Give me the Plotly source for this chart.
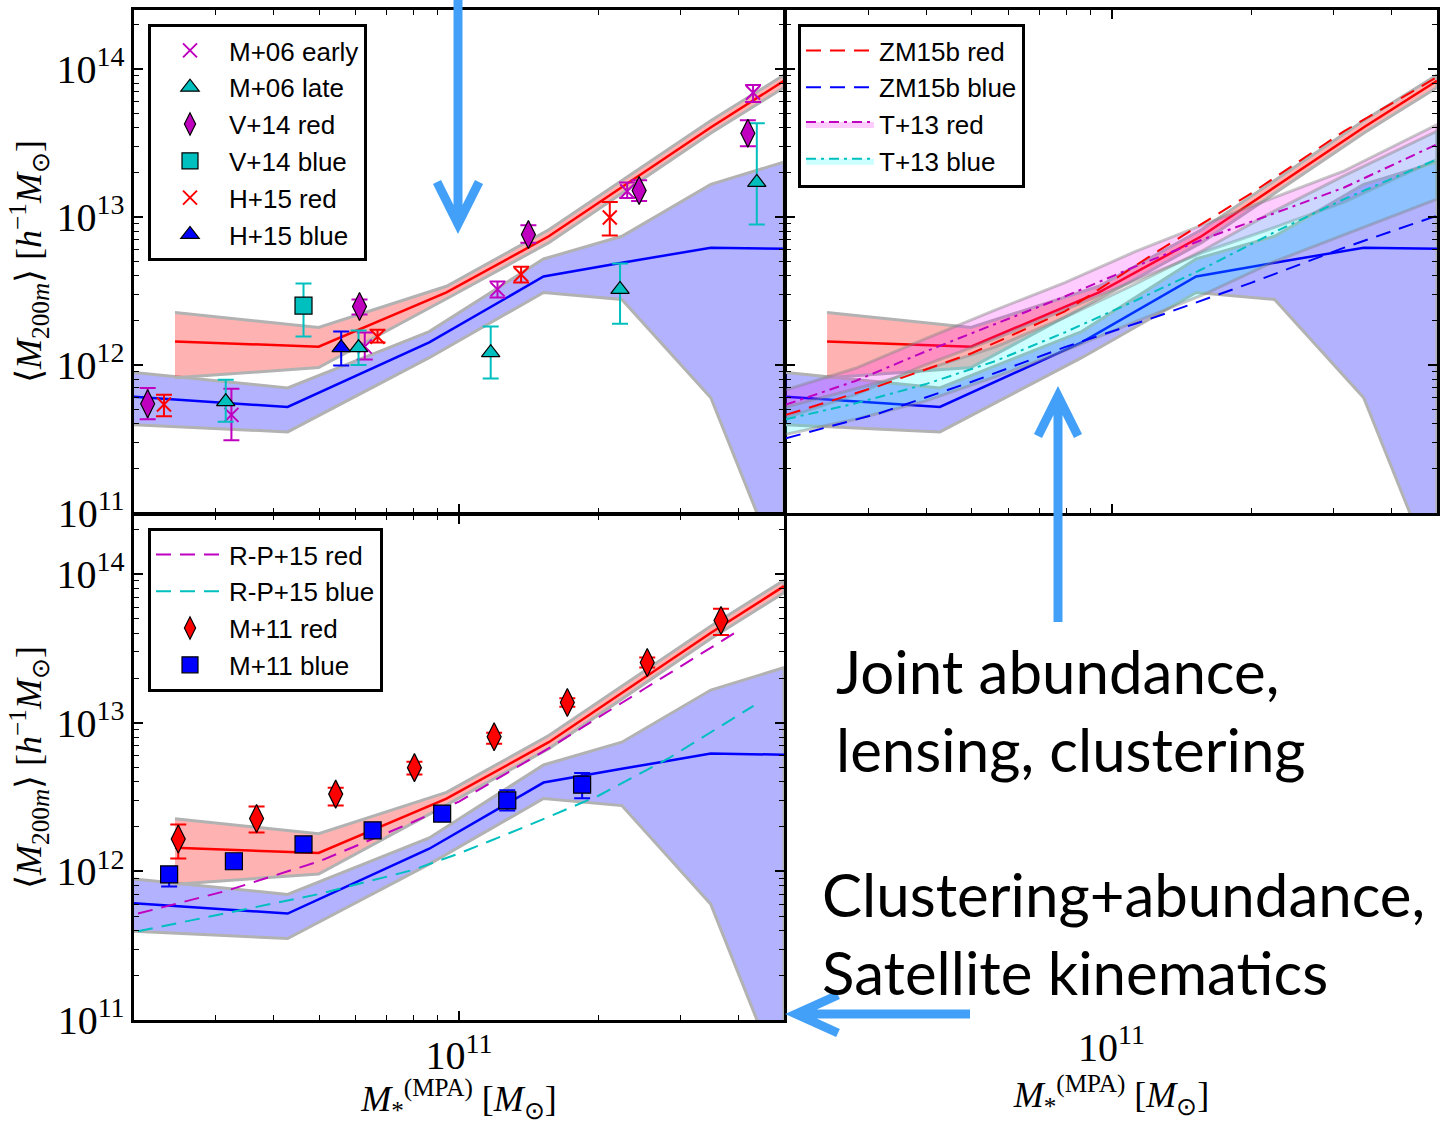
import math
import plotly.graph_objects as go

W, H = 1441, 1124

MAG = "#bf00bf"
CYAN = "#00bfbf"
RED = "#ff0000"
BLUE = "#0000ff"
EDGE = "#b2b2b2"
ARROW = "#42a0f8"
SERIF = "Liberation Serif"
SANS = "Liberation Sans"

# axis limits
mstar_lim = [2e10, 5e11]
mhalo_lim = [1e11, 2.5e14]

# best-fit model: red galaxies (line + 68% band)
red_mstar = [2.45e10, 4.99e10, 9.4e10, 1.56e11, 3.49e11, 5.0e11]
red_mh = [1.44e12, 1.33e12, 3.09e12, 7.4e12, 4.05e13, 8.3e13]
red_mh_hi = [2.26e12, 1.79e12, 3.4e12, 8.2e12, 4.5e13, 9.1e13]
red_mh_lo = [8.2e11, 9.6e11, 2.8e12, 6.7e12, 3.7e13, 7.5e13]

# best-fit model: blue galaxies
blue_mstar = [2.0e10, 4.28e10, 8.63e10, 1.52e11, 2.24e11, 3.48e11, 5.0e11]
blue_mh = [6.1e11, 5.2e11, 1.42e12, 3.96e12, 4.9e12, 6.2e12, 6.1e12]
blue_mh_hi = [8.9e11, 7.0e11, 1.68e12, 5.2e12, 7.4e12, 1.66e13, 2.35e13]
blue_mh_lo = [3.95e11, 3.53e11, 1.12e12, 3.09e12, 2.77e12, 6.0e11, 3.5e10]

# lensing measurements (top-left panel)
m06e_x = [3.24e10, 6.27e10, 1.21e11, 2.30e11, 4.29e11]
m06e_y = [4.6e11, 1.33e12, 3.24e12, 1.49e13, 6.9e13]
m06e_hi = [6.9e11, 1.66e12, 3.66e12, 1.71e13, 7.8e13]
m06e_lo = [3.1e11, 1.09e12, 2.86e12, 1.34e13, 5.97e13]

m06l_x = [3.15e10, 6.08e10, 1.17e11, 2.22e11, 4.37e11]
m06l_y = [5.65e11, 1.31e12, 1.21e12, 3.24e12, 1.71e13]
m06l_hi = [7.95e11, 1.71e12, 1.82e12, 4.85e12, 4.3e13]
m06l_lo = [4.13e11, 1.0e12, 8.1e11, 1.9e12, 8.9e12]

v14r_x = [2.14e10, 6.11e10, 1.41e11, 2.44e11, 4.18e11]
v14r_y = [5.47e11, 2.48e12, 7.6e12, 1.51e13, 3.68e13]
v14r_hi = [7.0e11, 2.77e12, 8.8e12, 1.77e13, 4.5e13]
v14r_lo = [4.3e11, 2.19e12, 6.7e12, 1.28e13, 3.0e13]

v14b_x = [4.63e10]
v14b_y = [2.52e12]
v14b_hi = [3.55e12]
v14b_lo = [1.56e12]

h15r_x = [2.32e10, 6.68e10, 1.36e11, 2.11e11]
h15r_y = [5.4e11, 1.55e12, 4.08e12, 9.9e12]
h15r_hi = [6.3e11, 1.73e12, 4.6e12, 1.26e13]
h15r_lo = [4.5e11, 1.42e12, 3.6e12, 7.5e12]

h15b_x = [5.58e10]
h15b_y = [1.31e12]
h15b_hi = [1.68e12]
h15b_lo = [9.9e11]

# clustering / abundance models (top-right panel)
zm_x = [2.0e10, 3.16e10, 5.01e10, 7.94e10, 1.26e11, 2.0e11, 3.16e11, 5.0e11]
zm_red = [4.6e11, 7.2e11, 1.2e12, 2.3e12, 5.9e12, 1.45e13, 3.8e13, 8.8e13]
zm_blue = [3.2e11, 4.7e11, 7.7e11, 1.32e12, 2.14e12, 3.6e12, 6.2e12, 1.02e13]

t13_x = [2.0e10, 2.82e10, 3.98e10, 5.62e10, 7.94e10, 1.12e11, 1.58e11, 2.24e11, 3.16e11, 5.0e11]
t13_red = [5.4e11, 7.8e11, 1.23e12, 1.88e12, 2.9e12, 4.6e12, 7.1e12, 1.06e13, 1.58e13, 3.1e13]
t13_red_hi = [6.8e11, 9.5e11, 1.5e12, 2.35e12, 3.6e12, 5.8e12, 8.9e12, 1.35e13, 2.05e13, 4.2e13]
t13_red_lo = [4.4e11, 6.3e11, 1.0e12, 1.5e12, 2.35e12, 3.7e12, 5.8e12, 8.5e12, 1.26e13, 2.45e13]
t13_blue = [4.3e11, 5.5e11, 7.4e11, 1.06e12, 1.66e12, 2.7e12, 4.5e12, 7.9e12, 1.32e13, 2.45e13]
t13_blue_hi = [5.2e11, 6.9e11, 9.3e11, 1.32e12, 2.1e12, 3.5e12, 6.0e12, 1.1e13, 1.9e13, 3.8e13]
t13_blue_lo = [3.4e11, 4.3e11, 5.7e11, 8.3e11, 1.25e12, 1.95e12, 3.0e12, 5.0e12, 7.6e12, 1.32e13]

# clustering + satellite kinematics (bottom-left panel)
rp_red_x = [2.04e10, 3.16e10, 5.01e10, 7.94e10, 1.0e11, 1.58e11, 2.51e11, 4.04e11]
rp_red = [5.2e11, 7.4e11, 1.17e12, 2.14e12, 2.95e12, 6.9e12, 1.7e13, 4.27e13]
rp_blue_x = [2.04e10, 3.16e10, 5.01e10, 7.94e10, 1.0e11, 1.41e11, 2.0e11, 2.82e11, 4.3e11]
rp_blue = [3.95e11, 5.25e11, 7.05e11, 1.02e12, 1.32e12, 2.04e12, 3.24e12, 5.75e12, 1.3e13]

m11r_x = [2.49e10, 3.67e10, 5.43e10, 8.02e10, 1.19e11, 1.71e11, 2.54e11, 3.66e11]
m11r_y = [1.65e12, 2.27e12, 3.31e12, 4.99e12, 8.05e12, 1.37e13, 2.54e13, 4.88e13]
m11r_hi = [2.07e12, 2.73e12, 3.66e12, 5.47e12, 8.57e12, 1.46e13, 2.75e13, 5.86e13]
m11r_lo = [1.22e12, 1.83e12, 2.77e12, 4.48e12, 7.23e12, 1.28e13, 2.35e13, 3.9e13]

m11b_x = [2.38e10, 3.28e10, 4.63e10, 6.52e10, 9.2e10, 1.27e11, 1.84e11]
m11b_y = [9.55e11, 1.17e12, 1.52e12, 1.89e12, 2.45e12, 3.0e12, 3.84e12]
m11b_hi = [1.05e12, 1.22e12, 1.59e12, 1.98e12, 2.57e12, 3.52e12, 4.6e12]
m11b_lo = [7.9e11, 1.12e12, 1.45e12, 1.8e12, 2.34e12, 2.57e12, 3.1e12]

fig = go.Figure()


def band(xs, lo, hi, fill, ax, edge=EDGE, width=3):
    fig.add_trace(go.Scatter(
        x=list(xs) + list(xs)[::-1], y=list(hi) + list(lo)[::-1],
        mode="lines", fill="toself", fillcolor=fill,
        line=dict(color=edge, width=width),
        xaxis="x" + ax, yaxis="y" + ax, showlegend=False, hoverinfo="skip"))


def curve(xs, ys, color, ax, dash="solid", width=2.5, name=None, legend=None):
    fig.add_trace(go.Scatter(
        x=xs, y=ys, mode="lines", line=dict(color=color, width=width, dash=dash),
        xaxis="x" + ax, yaxis="y" + ax, name=name,
        showlegend=legend is not None, legend=legend or "legend", hoverinfo="skip"))


def points(xs, ys, hi, lo, name, symbol, color, size, ax, legend):
    err = dict(type="data", symmetric=False,
               array=[h - v for h, v in zip(hi, ys)],
               arrayminus=[v - l for v, l in zip(ys, lo)],
               color=color, thickness=2, width=8)
    if symbol == "x-thin":
        marker = dict(symbol=symbol, size=size, line=dict(color=color, width=2))
    else:
        marker = dict(symbol=symbol, size=size, color=color,
                      line=dict(color="black", width=1.2))
    fig.add_trace(go.Scatter(
        x=xs, y=ys, mode="markers", marker=marker, error_y=err, name=name,
        xaxis="x" + ax, yaxis="y" + ax, legend=legend, hoverinfo="skip"))


def model(ax):
    band(blue_mstar, blue_mh_lo, blue_mh_hi, "rgba(0,0,255,0.3)", ax)
    band(red_mstar, red_mh_lo, red_mh_hi, "rgba(255,0,0,0.3)", ax)
    curve(blue_mstar, blue_mh, BLUE, ax)
    curve(red_mstar, red_mh, RED, ax)


DASH = "15px,9px"
DASHDOT = "10px,5px,3px,5px"

# top-left: lensing
model("")
points(m06e_x, m06e_y, m06e_hi, m06e_lo, "M+06 early", "x-thin", MAG, 14, "", "legend")
points(m06l_x, m06l_y, m06l_hi, m06l_lo, "M+06 late", "triangle-up", CYAN, 16, "", "legend")
points(v14r_x, v14r_y, v14r_hi, v14r_lo, "V+14 red", "diamond-tall", MAG, 20, "", "legend")
points(v14b_x, v14b_y, v14b_hi, v14b_lo, "V+14 blue", "square", CYAN, 17, "", "legend")
points(h15r_x, h15r_y, h15r_hi, h15r_lo, "H+15 red", "x-thin", RED, 14, "", "legend")
points(h15b_x, h15b_y, h15b_hi, h15b_lo, "H+15 blue", "triangle-up", BLUE, 16, "", "legend")

# top-right: clustering / abundance models
model("2")
band(t13_x, t13_red_lo, t13_red_hi, "rgba(255,0,255,0.2)", "2", edge="rgba(130,130,130,0.45)")
band(t13_x, t13_blue_lo, t13_blue_hi, "rgba(0,255,255,0.2)", "2", edge="rgba(130,130,130,0.45)")
curve(zm_x, zm_red, RED, "2", dash=DASH, width=2, name="ZM15b red", legend="legend2")
curve(zm_x, zm_blue, BLUE, "2", dash=DASH, width=2, name="ZM15b blue", legend="legend2")
curve(t13_x, t13_red, MAG, "2", dash=DASHDOT, width=2)
curve(t13_x, t13_blue, CYAN, "2", dash=DASHDOT, width=2)
for nm, col, fc in [("T+13 red", MAG, "rgba(255,0,255,0.2)"), ("T+13 blue", CYAN, "rgba(0,255,255,0.2)")]:
    fig.add_trace(go.Scatter(x=[None], y=[None], mode="lines", fill="toself", fillcolor=fc,
                             line=dict(color=col, width=2, dash=DASHDOT), name=nm,
                             xaxis="x2", yaxis="y2", legend="legend2", hoverinfo="skip"))

# bottom-left: clustering + satellite kinematics
model("3")
curve(rp_red_x, rp_red, MAG, "3", dash=DASH, width=2, name="R-P+15 red", legend="legend3")
curve(rp_blue_x, rp_blue, CYAN, "3", dash=DASH, width=2, name="R-P+15 blue", legend="legend3")
points(m11r_x, m11r_y, m11r_hi, m11r_lo, "M+11 red", "diamond-tall", RED, 20, "3", "legend3")
points(m11b_x, m11b_y, m11b_hi, m11b_lo, "M+11 blue", "square", BLUE, 17, "3", "legend3")

# empty bottom-right slot only carries an x axis
fig.add_trace(go.Scatter(x=[None], y=[None], xaxis="x4", yaxis="y4", showlegend=False, hoverinfo="skip"))


def px_x(p):
    return p / W


def px_y(p):
    return 1 - p / H


xr = [math.log10(v) for v in mstar_lim]
yr = [math.log10(v) for v in mhalo_lim]

tickfont = dict(family=SERIF, size=32, color="black")
titlefont = dict(family=SERIF, size=36, color="black")
minor = dict(ticks="inside", ticklen=5, tickwidth=1.2, tickcolor="black", dtick="D1", showgrid=False)


def frame(domain, anchor, rng, labels, title=None, standoff=6):
    d = dict(type="log", range=rng, domain=domain, anchor=anchor,
             showline=True, linewidth=3, linecolor="black", mirror="allticks",
             ticks="inside", ticklen=9, tickwidth=1.5, tickcolor="black",
             minor=minor, showgrid=False, zeroline=False, dtick=1,
             exponentformat="power", showticklabels=labels, tickfont=tickfont,
             automargin=False)
    if title:
        d["title"] = dict(text=title, font=titlefont, standoff=standoff)
    return d


xtitle = "<i>M</i><sub>*</sub><sup>(MPA)</sup> [<i>M</i><sub>⊙</sub>]"
ytitle = "⟨<i>M</i><sub>200<i>m</i></sub>⟩ [<i>h</i><sup>−1</sup><i>M</i><sub>⊙</sub>]"

dx_left = [px_x(134), px_x(784)]
dx_right = [px_x(786), px_x(1437)]
dy_top = [px_y(513), px_y(10)]
dy_bot = [px_y(1020), px_y(515)]

legend_style = dict(bgcolor="white", bordercolor="black", borderwidth=3,
                    font=dict(family=SANS, size=26, color="black"),
                    xanchor="left", yanchor="top", itemwidth=68, tracegroupgap=0)

fig.update_layout(
    width=W, height=H, margin=dict(l=0, r=0, t=0, b=0),
    paper_bgcolor="white", plot_bgcolor="white",
    xaxis=frame(dx_left, "y", xr, False),
    yaxis=frame(dy_top, "x", yr, True, ytitle, standoff=4),
    xaxis2=frame(dx_right, "y2", xr, False),
    yaxis2=frame(dy_top, "x2", yr, False),
    xaxis3=frame(dx_left, "y3", xr, True, xtitle, standoff=2),
    yaxis3=frame(dy_bot, "x3", yr, True, ytitle, standoff=4),
    xaxis4=dict(type="log", range=xr, domain=dx_right, anchor="y4", showline=False,
                ticks="", showgrid=False, zeroline=False, dtick=1, exponentformat="power",
                tickfont=tickfont, automargin=False,
                title=dict(text=xtitle, font=titlefont, standoff=2)),
    yaxis4=dict(domain=dy_bot, anchor="x4", visible=False, range=[0, 1]),
    legend=dict(x=px_x(148), y=px_y(24), **legend_style),
    legend2=dict(x=px_x(798), y=px_y(24), **legend_style),
    legend3=dict(x=px_x(148), y=px_y(528), **legend_style),
)


def arrow(shaft, head):
    (x0, y0), (x1, y1) = shaft
    path = f"M{px_x(x0)},{px_y(y0)} L{px_x(x1)},{px_y(y1)}"
    pts = " L".join(f"{px_x(a)},{px_y(b)}" for a, b in head)
    path += " M" + pts
    fig.add_shape(type="path", path=path, xref="paper", yref="paper",
                  line=dict(color=ARROW, width=9), layer="above")


arrow([(458, -5), (458, 220)], [(437, 182), (458, 224), (479, 182)])
arrow([(1058, 622), (1058, 400)], [(1038, 436), (1058, 396), (1078, 436)])
arrow([(970, 1014), (800, 1014)], [(838, 995), (796, 1014), (838, 1033)])

note_font = dict(family="Lato", size=60, color="black")
fig.add_annotation(text="Joint abundance,<br>lensing, clustering", x=px_x(834), y=px_y(633),
                   xref="paper", yref="paper", xanchor="left", yanchor="top", align="left",
                   showarrow=False, font=note_font)
fig.add_annotation(text="Clustering+abundance,<br>Satellite kinematics", x=px_x(820), y=px_y(856),
                   xref="paper", yref="paper", xanchor="left", yanchor="top", align="left",
                   showarrow=False, font=note_font)

fig.write_html("out.html")
